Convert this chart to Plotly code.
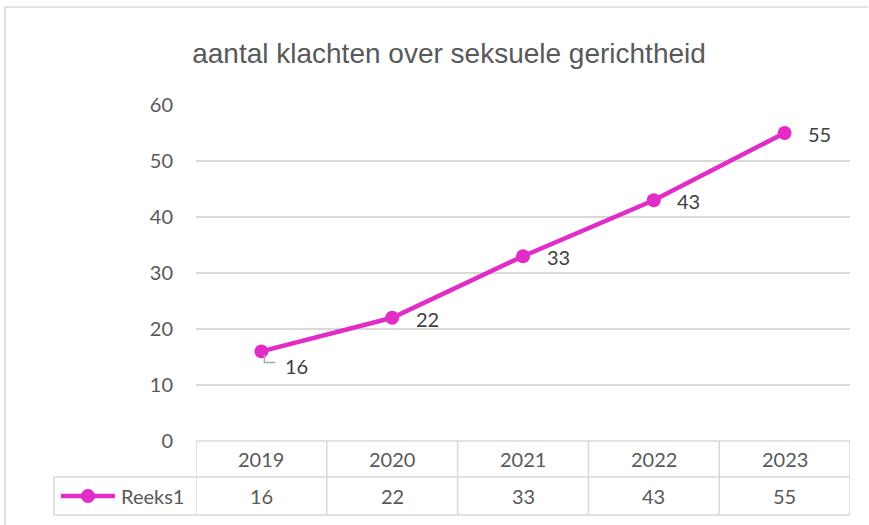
import plotly.graph_objects as go

title = "aantal klachten over seksuele gerichtheid"
categories = ["2019", "2020", "2021", "2022", "2023"]
series_name = "Reeks1"
values = [16, 22, 33, 43, 55]
y_ticks = [0, 10, 20, 30, 40, 50, 60]

LINE = "#E32BC7"
GRID = "#D9D9D9"
TXT = "#595959"
LBL = "#404040"
FONT = "Lato, 'Open Sans', sans-serif"
FS = 20

W, H = 869, 525
L, R, T, B = 196, 19, 105, 84
PW, PH = W - L - R, H - T - B

def px_x(p):
    return (p - L) / PW

def px_y(p):
    return (H - B - p) / PH

xs = list(range(len(categories)))

fig = go.Figure()
fig.add_trace(go.Scatter(
    x=xs, y=values, mode="lines+markers", name=series_name,
    line=dict(color=LINE, width=4.5),
    marker=dict(color=LINE, size=14),
    showlegend=False, cliponaxis=False, hoverinfo="skip",
))

shapes = []
annotations = []

# outer border (top + left)
shapes.append(dict(type="line", xref="paper", yref="paper", x0=px_x(5), x1=px_x(868),
                   y0=px_y(7), y1=px_y(7), line=dict(color=GRID, width=1.5)))
shapes.append(dict(type="line", xref="paper", yref="paper", x0=px_x(5), x1=px_x(5),
                   y0=px_y(7), y1=px_y(530), line=dict(color=GRID, width=1.5)))

# data table
row1 = px_y(477)
row2 = px_y(515)
for yv in [0, row1, row2]:
    shapes.append(dict(type="line", xref="paper", yref="paper",
                       x0=(0 if yv == 0 else px_x(54)), x1=1,
                       y0=yv, y1=yv, line=dict(color=GRID, width=1.5)))
for i in range(len(categories) + 1):
    shapes.append(dict(type="line", xref="x", yref="paper", x0=i - 0.5, x1=i - 0.5,
                       y0=0, y1=row2, line=dict(color=GRID, width=1.5)))
shapes.append(dict(type="line", xref="paper", yref="paper", x0=px_x(54), x1=px_x(54),
                   y0=row1, y1=row2, line=dict(color=GRID, width=1.5)))

for i, (c, v) in enumerate(zip(categories, values)):
    annotations.append(dict(x=i, y=px_y(459), xref="x", yref="paper", text=c,
                            xanchor="center", yanchor="middle",
                            showarrow=False, font=dict(size=FS, color=TXT, family=FONT)))
    annotations.append(dict(x=i, y=px_y(496), xref="x", yref="paper", text=str(v),
                            xanchor="center", yanchor="middle",
                            showarrow=False, font=dict(size=FS, color=TXT, family=FONT)))

# legend key in table
ky = px_y(496)
shapes.append(dict(type="line", xref="paper", yref="paper", x0=px_x(61), x1=px_x(115),
                   y0=ky, y1=ky, line=dict(color=LINE, width=4.5)))
shapes.append(dict(type="circle", xref="paper", yref="paper", x0=px_x(81), x1=px_x(95),
                   y0=px_y(489), y1=px_y(503), fillcolor=LINE, line=dict(color=LINE, width=0)))
annotations.append(dict(x=px_x(119), y=ky, xref="paper", yref="paper", text=series_name,
                        xanchor="left", yanchor="middle", showarrow=False,
                        font=dict(size=FS, color=TXT, family=FONT)))

# data labels
for i, v in enumerate(values):
    ys = -15 if i == 0 else -1
    annotations.append(dict(x=i, y=v, xref="x", yref="y", text=str(v), showarrow=False,
                            xanchor="center", yanchor="middle",
                            xshift=35, yshift=ys, font=dict(size=FS, color=LBL, family=FONT)))
# leader line for first label
shapes.append(dict(type="path", xref="x", yref="y", xsizemode="pixel", ysizemode="pixel",
                   xanchor=0, yanchor=values[0], path="M 3,-3 L 3,-11 L 14,-11",
                   line=dict(color="#A6A6A6", width=1.5)))

fig.update_layout(
    width=W, height=H,
    margin=dict(l=L, r=R, t=T, b=B),
    paper_bgcolor="white", plot_bgcolor="white",
    title=dict(text=title, x=449 / W, xref="container", xanchor="center",
               y=1 - 53 / H, yref="container", yanchor="middle",
               font=dict(size=28, color="#595959", family="'Liberation Sans', Arial, sans-serif")),
    xaxis=dict(range=[-0.5, len(categories) - 0.5], showgrid=False, zeroline=False,
               showticklabels=False, showline=False, fixedrange=True),
    yaxis=dict(range=[0, 60], tickvals=y_ticks, showgrid=True, gridcolor=GRID, gridwidth=1.5,
               zeroline=False, showline=False, ticklabelstandoff=22, fixedrange=True,
               tickfont=dict(size=FS, color=TXT, family=FONT)),
    shapes=shapes, annotations=annotations,
    showlegend=False,
)

fig.write_html("out.html", config={"displayModeBar": False},
               post_script="document.body.style.margin='0';document.body.style.overflow='hidden';")
